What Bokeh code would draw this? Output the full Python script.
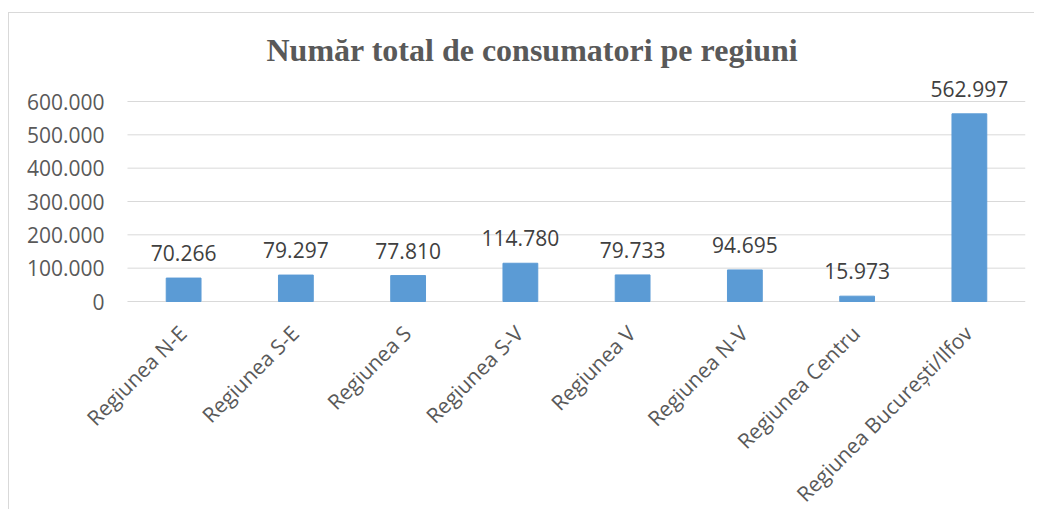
from bokeh.plotting import figure
from bokeh.models import ColumnDataSource, FixedTicker, Range1d
from bokeh.core.properties import value
from bokeh.embed import file_html
from bokeh.resources import INLINE
from math import pi

categories = ["Regiunea N-E", "Regiunea S-E", "Regiunea S", "Regiunea S-V",
              "Regiunea V", "Regiunea N-V", "Regiunea Centru", "Regiunea București/Ilfov"]
values = [70266, 79297, 77810, 114780, 79733, 94695, 15973, 562997]
y_ticks = [0, 100000, 200000, 300000, 400000, 500000, 600000]
y_tick_labels = ["0", "100.000", "200.000", "300.000", "400.000", "500.000", "600.000"]
title_text = "Număr total de consumatori pe regiuni"

n = len(categories)
xs = [i + 0.5 for i in range(n)]  # category centres on a numeric scale
labels = [f"{v:,}".replace(",", ".") for v in values]
src = ColumnDataSource(dict(x=xs, cat=categories, val=values, lab=labels, zero=[0] * n))

p = figure(x_range=Range1d(-0.4454, n), y_range=Range1d(-615000, 690000),
           width=1026, height=497, output_backend="svg", toolbar_location=None,
           x_axis_location=None,
           min_border_left=68, min_border_right=10, min_border_top=58, min_border_bottom=4)
p.styles = {"border-top": "1px solid #D9D9D9", "border-left": "1px solid #D9D9D9",
            "margin-top": "12px", "margin-left": "8px"}
p.outline_line_color = None

p.title.text = title_text
p.title.text_font = "Liberation Serif"
p.title.text_font_style = "bold"
p.title.text_font_size = "32px"
p.title.text_color = "#595959"
p.title.align = "left"
p.title.offset = 189
p.title.standoff = 7

# horizontal grid lines across the category area only
p.xgrid.grid_line_color = None
p.ygrid.grid_line_color = None
p.segment(x0=[0] * len(y_ticks), x1=[n] * len(y_ticks), y0=y_ticks, y1=y_ticks,
          line_color="#D9D9D9", line_width=1)

p.vbar(x="x", top="val", width=0.31, source=src, color="#5B9BD5")
p.text(x="x", y="val", text="lab", source=src, text_align="center",
       text_baseline="middle", y_offset=-25, text_font_size="21px",
       text_color="#404040", text_font=value("Open Sans"))

# category labels, rotated 45 degrees, under the zero line
p.text(x="x", y="zero", text="cat", source=src, angle=pi / 4,
       text_align="right", text_baseline="top", x_offset=-11, y_offset=18,
       text_font_size="21px", text_color="#595959", text_font=value("Open Sans"))

p.yaxis.ticker = FixedTicker(ticks=y_ticks)
p.yaxis.major_label_overrides = {t: l for t, l in zip(y_ticks, y_tick_labels)}
p.yaxis.axis_line_color = None
p.yaxis.major_tick_line_color = None
p.yaxis.minor_tick_line_color = None
p.yaxis.major_tick_in = 0
p.yaxis.major_tick_out = 0
p.yaxis.major_label_standoff = -27
p.yaxis.major_label_text_font = "Open Sans"
p.yaxis.major_label_text_font_size = "21px"
p.yaxis.major_label_text_color = "#595959"

open("out.html", "w").write(file_html(p, INLINE))
